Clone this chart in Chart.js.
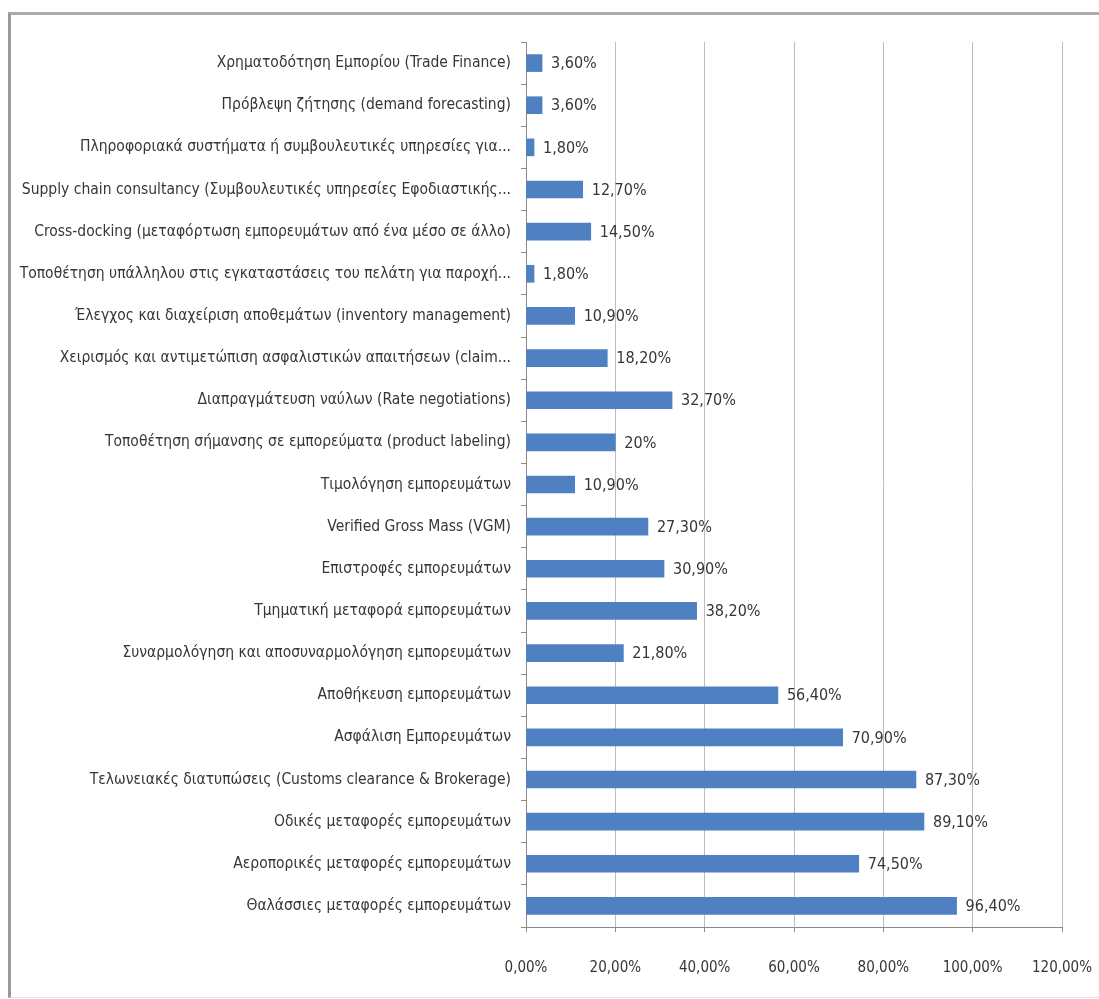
<!DOCTYPE html>
<html lang="el">
<head>
<meta charset="utf-8">
<title>Υπηρεσίες</title>
<script src="https://cdn.jsdelivr.net/npm/chart.js@4.4.1/dist/chart.umd.min.js"></script>
<style>
  html, body { margin: 0; padding: 0; background: #fff; }
  .wrap { position: relative; width: 1099px; height: 999px; overflow: hidden; }
  .frame {
    position: absolute; left: 8px; top: 12px; right: -4px; bottom: 1px;
    border-top: 3px solid #acacac; border-left: 3px solid #9a9a9a; border-bottom: 1px solid #e2e2e2;
  }
  canvas { position: absolute; left: 0; top: 0; }
</style>
</head>
<body>
<div class="wrap">
  <div class="frame"></div>
  <canvas id="chart" width="1099" height="999"></canvas>
</div>
<script>
const categories = [
  'Χρηματοδότηση Εμπορίου (Trade Finance)',
  'Πρόβλεψη ζήτησης (demand forecasting)',
  'Πληροφοριακά συστήματα ή συμβουλευτικές υπηρεσίες για...',
  'Supply chain consultancy (Συμβουλευτικές υπηρεσίες Εφοδιαστικής...',
  'Cross-docking (μεταφόρτωση εμπορευμάτων από ένα μέσο σε άλλο)',
  'Τοποθέτηση υπάλληλου στις εγκαταστάσεις του πελάτη για παροχή...',
  'Έλεγχος και διαχείριση αποθεμάτων (inventory management)',
  'Χειρισμός και αντιμετώπιση ασφαλιστικών απαιτήσεων (claim...',
  'Διαπραγμάτευση ναύλων (Rate negotiations)',
  'Τοποθέτηση σήμανσης σε εμπορεύματα (product labeling)',
  'Τιμολόγηση εμπορευμάτων',
  'Verified Gross Mass (VGM)',
  'Επιστροφές εμπορευμάτων',
  'Τμηματική μεταφορά εμπορευμάτων',
  'Συναρμολόγηση και αποσυναρμολόγηση εμπορευμάτων',
  'Αποθήκευση εμπορευμάτων',
  'Ασφάλιση Εμπορευμάτων',
  'Τελωνειακές διατυπώσεις (Customs clearance & Brokerage)',
  'Οδικές μεταφορές εμπορευμάτων',
  'Αεροπορικές μεταφορές εμπορευμάτων',
  'Θαλάσσιες μεταφορές εμπορευμάτων'
];
const shares = [3.6, 3.6, 1.8, 12.7, 14.5, 1.8, 10.9, 18.2, 32.7, 20, 10.9, 27.3, 30.9, 38.2, 21.8, 56.4, 70.9, 87.3, 89.1, 74.5, 96.4];
const xTicks = [0, 20, 40, 60, 80, 100, 120];

const FONT = '"Liberation Sans Narrow", "DejaVu Sans Condensed", sans-serif';
const TEXT = '#363636';
const BAR = '#4f81c2';

// Greek decimal comma; whole numbers keep no decimals ("20%")
const fmtValue = v => Number.isInteger(v) ? `${v}%` : `${v.toFixed(2).replace('.', ',')}%`;
const fmtTick = v => `${v.toFixed(2).replace('.', ',')}%`;

const valueLabels = {
  id: 'valueLabels',
  afterDatasetsDraw(chart) {
    const { ctx } = chart;
    const meta = chart.getDatasetMeta(0);
    ctx.save();
    ctx.font = `16px ${FONT}`;
    ctx.fillStyle = TEXT;
    ctx.textAlign = 'left';
    ctx.textBaseline = 'middle';
    meta.data.forEach((bar, i) => {
      ctx.fillText(fmtValue(shares[i]), bar.x + 9, bar.y + 1);
    });
    ctx.restore();
  }
};

new Chart(document.getElementById('chart'), {
  type: 'bar',
  data: {
    labels: categories,
    datasets: [{
      data: shares,
      backgroundColor: BAR,
      borderWidth: 0,
      barThickness: 17
    }]
  },
  options: {
    indexAxis: 'y',
    responsive: false,
    animation: false,
    devicePixelRatio: 1,
    layout: { padding: { top: 42, right: 37, left: 0, bottom: 0 } },
    plugins: {
      legend: { display: false },
      tooltip: { enabled: false }
    },
    scales: {
      x: {
        min: 0,
        max: 120,
        afterBuildTicks: scale => { scale.ticks = xTicks.map(v => ({ value: v })); },
        afterFit: scale => {
          scale.height = 72;
          // end labels may hang past the plot edges
          scale.paddingLeft = 0;
          scale.paddingRight = 0;
        },
        grid: { color: '#bdbdbd', lineWidth: 1, tickLength: 5, tickColor: '#8a8a8a' },
        border: { color: '#8a8a8a' },
        ticks: {
          padding: 27,
          color: TEXT,
          font: { family: FONT, size: 15 },
          callback: v => fmtTick(v),
          maxRotation: 0
        }
      },
      y: {
        afterFit: scale => { scale.width = 526; },
        grid: { drawOnChartArea: false, offset: true, tickLength: 5, color: '#8a8a8a' },
        border: { color: '#8a8a8a' },
        ticks: {
          padding: 10,
          color: TEXT,
          font: { family: FONT, size: 15.5 },
          autoSkip: false
        }
      }
    }
  },
  plugins: [valueLabels]
});
</script>
</body>
</html>
